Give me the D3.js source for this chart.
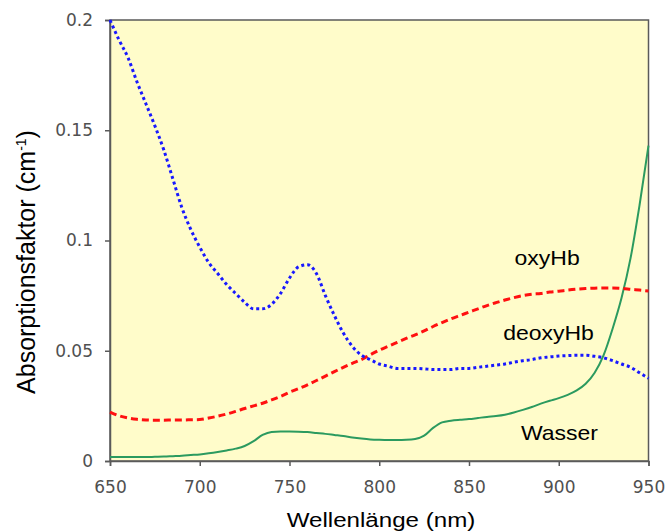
<!DOCTYPE html>
<html>
<head>
<meta charset="utf-8">
<script src="https://cdn.jsdelivr.net/npm/d3@7"></script>
<style>
  body { margin: 0; background: #fff; }
  svg { display: block; }
</style>
</head>
<body>
<div id="chart"></div>
<script>
// Data
const wavelengths = d3.range(650, 951, 5)

const deoxyHb = [
  0.200, 0.191, 0.183, 0.172, 0.162, 0.152, 0.141, 0.128, 0.115, 0.105,
  0.097, 0.090, 0.085, 0.080, 0.076, 0.072, 0.069, 0.069, 0.071, 0.076,
  0.083, 0.088, 0.089, 0.085, 0.075, 0.066, 0.058, 0.052, 0.048, 0.046,
  0.044, 0.043, 0.042, 0.042, 0.042, 0.0418, 0.0415, 0.0415, 0.0415, 0.042,
  0.042, 0.0425, 0.043, 0.0435, 0.044, 0.0448, 0.0455, 0.046, 0.0468, 0.0472,
  0.0476, 0.0478, 0.048, 0.048, 0.0475, 0.0468, 0.0455, 0.044, 0.0425, 0.040,
  0.0375
]

const oxyHb = [
  0.0222, 0.0205, 0.0195, 0.0189, 0.0186, 0.0185, 0.0185, 0.0186, 0.0186, 0.0187,
  0.0188, 0.0195, 0.0203, 0.0213, 0.0225, 0.0238, 0.025, 0.0262, 0.0277, 0.0293,
  0.0312, 0.0328, 0.0345, 0.0365, 0.0385, 0.0405, 0.0425, 0.0443, 0.046, 0.0482,
  0.0503, 0.052, 0.0538, 0.0556, 0.0572, 0.059, 0.061, 0.0628, 0.0645, 0.066,
  0.0675, 0.069, 0.0705, 0.0718, 0.073, 0.0741, 0.075, 0.0756, 0.076, 0.0766,
  0.077, 0.0775, 0.0779, 0.0782, 0.0784, 0.0785, 0.0785, 0.0783, 0.0779, 0.0775,
  0.0771
]

const wasser = [
  0.0018, 0.0018, 0.0018, 0.0018, 0.0018, 0.0019, 0.0020, 0.0022, 0.0024, 0.0027,
  0.0030, 0.0035, 0.0041, 0.0048, 0.0056, 0.0068, 0.0090, 0.0118, 0.0132, 0.0134,
  0.0134, 0.0133, 0.0131, 0.0127, 0.0123, 0.0118, 0.0113, 0.0107, 0.0102, 0.0098,
  0.0096, 0.0095, 0.0095, 0.0096, 0.0100, 0.0115, 0.0150, 0.0175, 0.0183, 0.0187,
  0.0190, 0.0195, 0.0200, 0.0204, 0.0210, 0.0220, 0.0232, 0.0245, 0.0260, 0.0273,
  0.0285, 0.0300, 0.0320, 0.0350, 0.0400, 0.0480, 0.0600, 0.0740, 0.0920, 0.1160,
  0.1430
]

const xTicks = [650, 700, 750, 800, 850, 900, 950]
const yTicks = [0, 0.05, 0.1, 0.15, 0.2]
const yTickLabels = ['0', '0.05', '0.1', '0.15', '0.2']

// Layout
const width = 667
const height = 531
const margin = {top: 20, right: 18.5, bottom: 70, left: 110}
const w = width - margin.left - margin.right
const h = height - margin.top - margin.bottom

const xScale = d3.scaleLinear().domain([650, 950]).range([0, w])
const yScale = d3.scaleLinear().domain([0, 0.2]).range([h, 0])

const svg = d3.select('#chart').append('svg')
    .attr('width', width)
    .attr('height', height)

const g = svg.append('g')
    .attr('transform', `translate(${margin.left}, ${margin.top})`)

// plot background + frame
g.append('rect')
  .attr('width', w)
  .attr('height', h)
  .attr('fill', '#fffcca')
  .attr('stroke', '#5a5a5a')
  .attr('stroke-width', 1.5)

// Axes
const xAxis = d3.axisBottom(xScale)
  .tickValues(xTicks)
  .tickSize(5)
  .tickPadding(15)
  .tickFormat(d3.format('d'))

const yAxis = d3.axisLeft(yScale)
  .tickValues(yTicks)
  .tickSize(5)
  .tickPadding(12)
  .tickFormat((d, i) => yTickLabels[i])

const styleAxis = sel => {
  sel.select('.domain').attr('stroke', '#5a5a5a').attr('stroke-width', 1.5)
  sel.selectAll('.tick line').attr('stroke', '#5a5a5a').attr('stroke-width', 1.5)
  sel.selectAll('.tick text')
    .attr('fill', '#505050')
    .style('font-family', '"DejaVu Sans", Verdana, sans-serif')
    .style('font-size', '17px')
}

g.append('g')
  .attr('transform', `translate(0, ${h})`)
  .call(xAxis)
  .call(styleAxis)

g.append('g')
  .call(yAxis)
  .call(styleAxis)

// Lines
const line = series => d3.line()
  .x((d, i) => xScale(wavelengths[i]))
  .y(d => yScale(d))
  .curve(d3.curveMonotoneX)(series)

g.append('path')
  .attr('d', line(wasser))
  .attr('fill', 'none')
  .attr('stroke', '#2b9a5f')
  .attr('stroke-width', 2)

g.append('path')
  .attr('d', line(oxyHb))
  .attr('fill', 'none')
  .attr('stroke', '#ff1010')
  .attr('stroke-width', 3)
  .attr('stroke-dasharray', '7,4')

g.append('path')
  .attr('d', line(deoxyHb))
  .attr('fill', 'none')
  .attr('stroke', '#1818ff')
  .attr('stroke-width', 3)
  .attr('stroke-dasharray', '3,3')

// Series labels
const labels = [
  {text: 'oxyHb', x: 893.5, y: 0.0889},
  {text: 'deoxyHb', x: 894.3, y: 0.0549},
  {text: 'Wasser', x: 900.4, y: 0.0095}
]

g.selectAll('.series-label')
    .data(labels)
  .enter()
    .append('text')
    .attr('class', 'series-label')
    .attr('transform', d => `translate(${xScale(d.x)}, ${yScale(d.y)}) scale(1.15, 1)`)
    .attr('text-anchor', 'middle')
    .style('font-family', '"Liberation Sans", Arial, sans-serif')
    .style('font-size', '20px')
    .attr('fill', '#000')
    .text(d => d.text)

// Axis titles
svg.append('text')
  .attr('transform', 'translate(381, 527) scale(1.15, 1)')
  .attr('text-anchor', 'middle')
  .style('font-family', '"Liberation Sans", Arial, sans-serif')
  .style('font-size', '21px')
  .text('Wellenlänge (nm)')

const yTitle = svg.append('text')
  .attr('transform', 'translate(35, 262) rotate(-90)')
  .attr('text-anchor', 'middle')
  .style('font-family', '"Liberation Sans", Arial, sans-serif')
  .style('font-size', '25px')

yTitle.append('tspan').text('Absorptionsfaktor (cm')
yTitle.append('tspan').attr('dy', -9).style('font-size', '14px').text('-1')
yTitle.append('tspan').attr('dy', 9).text(')')
</script>
</body>
</html>
